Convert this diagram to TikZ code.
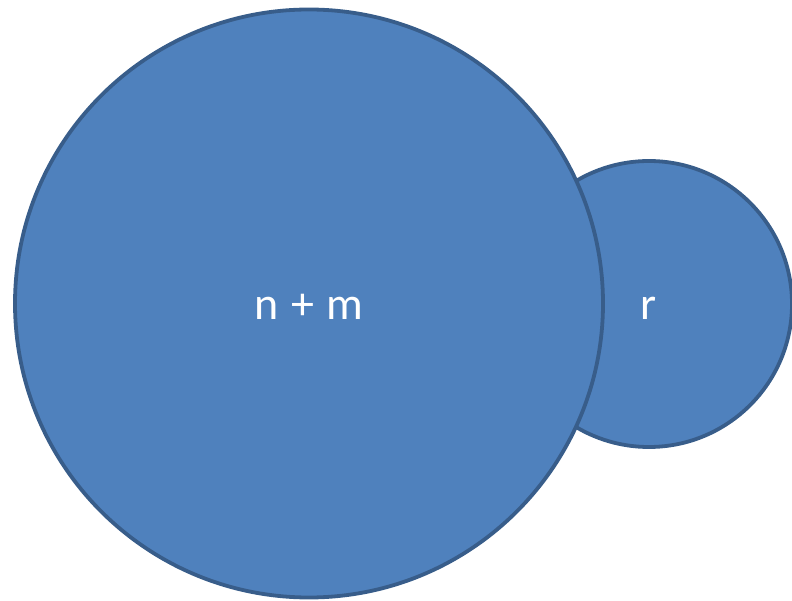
\documentclass[tikz,border=0pt]{standalone}
\usepackage{fontspec}
\setmainfont{Carlito}
\usetikzlibrary{positioning}
\definecolor{setfill}{HTML}{4F81BD}
\definecolor{setline}{HTML}{385D8A}
\newcommand{\setlabelfont}{\fontsize{46}{50}\selectfont\spaceskip=0.27em\relax}
\newcommand{\setlabel}[1]{\raisebox{-16pt}[0pt][0pt]{#1}}

\begin{document}
\begin{tikzpicture}[x=1pt,y=1pt,
      set/.style={circle,draw=setline,fill=setfill,line width=3.8pt,inner sep=0pt,text=white,
        font=\setlabelfont}]
    \useasboundingbox (0,0) rectangle (792,600);
    \node[set,minimum size=286pt] (r)  at (649,296) {\setlabel{r}};
    \node[set,minimum size=588pt] (nm) at (309,296.5) {\setlabel{n + m}};
  \end{tikzpicture}
\end{document}
